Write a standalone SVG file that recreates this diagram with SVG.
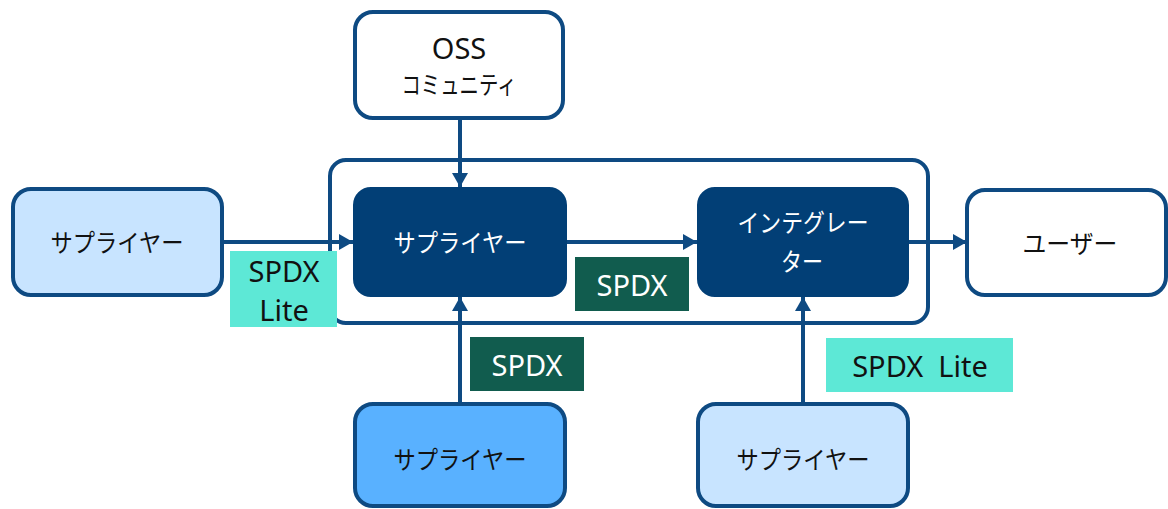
<svg xmlns="http://www.w3.org/2000/svg" width="1168" height="509" viewBox="0 0 1168 509">
  <style>
    text { font-family: "Noto Sans", "Noto Sans CJK JP", sans-serif; text-anchor: middle; dominant-baseline: central; }
    .jp { font-size: 25px; fill: #111111; }
    .jp-w { font-size: 25px; fill: #ffffff; }
    .lat { font-size: 29px; fill: #111111; }
    .lat-w { font-size: 29px; fill: #ffffff; }
    .box { stroke: #0E4A82; stroke-width: 4; }
    .white { fill: #ffffff; }
    .light { fill: #C8E4FF; }
    .mid { fill: #59B1FF; }
    .dark { fill: #023F76; stroke: #023F76; stroke-width: 2; }
    .conn { stroke: #0E4A82; stroke-width: 4; fill: none; }
    .tag-lite { fill: #5DE8D6; }
    .tag-full { fill: #115C4E; }
  </style>
  <defs>
    <marker id="arrow" markerUnits="userSpaceOnUse" markerWidth="16" markerHeight="18" refX="14" refY="8" orient="auto">
      <path d="M0,0 L14,8 L0,16 z" fill="#0E4A82"/>
    </marker>
  </defs>

  <!-- frame around the supply chain core -->
  <rect id="frame" x="330" y="160" width="598" height="163" rx="16" ry="16" fill="none" class="box"/>

  <g id="connectors">
    <line class="conn" x1="222" y1="242" x2="353" y2="242" marker-end="url(#arrow)"/>
    <line class="conn" x1="567" y1="242" x2="697" y2="242" marker-end="url(#arrow)"/>
    <line class="conn" x1="909" y1="242" x2="967" y2="242" marker-end="url(#arrow)"/>
    <line class="conn" x1="460" y1="118" x2="460" y2="187" marker-end="url(#arrow)"/>
    <line class="conn" x1="460" y1="403" x2="460" y2="297" marker-end="url(#arrow)"/>
    <line class="conn" x1="803" y1="403" x2="803" y2="297" marker-end="url(#arrow)"/>
  </g>

  <g id="oss">
    <rect class="box white" x="355" y="12" width="208" height="106" rx="18" ry="18"/>
    <text class="lat" x="459" y="47">OSS</text>
    <text class="jp" x="459" y="84" textLength="115" lengthAdjust="spacingAndGlyphs">コミュニティ</text>
  </g>

  <g id="supplier-left">
    <rect class="box light" x="13" y="189" width="209" height="106" rx="18" ry="18"/>
    <text class="jp" x="117" y="242" textLength="133" lengthAdjust="spacingAndGlyphs">サプライヤー</text>
  </g>

  <g id="supplier-core">
    <rect class="dark" x="354" y="188" width="212" height="108" rx="17" ry="17"/>
    <text class="jp-w" x="460" y="242" textLength="133" lengthAdjust="spacingAndGlyphs">サプライヤー</text>
  </g>

  <g id="integrator">
    <rect class="dark" x="698" y="188" width="210" height="108" rx="17" ry="17"/>
    <text class="jp-w" x="803" y="222" textLength="131" lengthAdjust="spacingAndGlyphs">インテグレー</text>
    <text class="jp-w" x="802" y="261" textLength="42" lengthAdjust="spacingAndGlyphs">ター</text>
  </g>

  <g id="user">
    <rect class="box white" x="967" y="190" width="199" height="105" rx="18" ry="18"/>
    <text class="jp" x="1070" y="243" textLength="95" lengthAdjust="spacingAndGlyphs">ユーザー</text>
  </g>

  <g id="supplier-bottom">
    <rect class="box mid" x="355" y="404" width="210" height="102" rx="18" ry="18"/>
    <text class="jp" x="460" y="459" textLength="133" lengthAdjust="spacingAndGlyphs">サプライヤー</text>
  </g>

  <g id="supplier-bottom-right">
    <rect class="box light" x="698" y="404" width="210" height="102" rx="18" ry="18"/>
    <text class="jp" x="803" y="459" textLength="133" lengthAdjust="spacingAndGlyphs">サプライヤー</text>
  </g>

  <g id="tag-lite-left">
    <rect class="tag-lite" x="230" y="251" width="107" height="76"/>
    <text class="lat" x="284" y="270">SPDX</text>
    <text class="lat" x="284" y="309">Lite</text>
  </g>

  <g id="tag-spdx-mid">
    <rect class="tag-full" x="575" y="257" width="114" height="54"/>
    <text class="lat-w" x="632" y="284">SPDX</text>
  </g>

  <g id="tag-spdx-bottom">
    <rect class="tag-full" x="470" y="337" width="114" height="54"/>
    <text class="lat-w" x="527" y="364">SPDX</text>
  </g>

  <g id="tag-lite-right">
    <rect class="tag-lite" x="826" y="338" width="187" height="54"/>
    <text class="lat" x="920" y="365" xml:space="preserve">SPDX  Lite</text>
  </g>
</svg>
